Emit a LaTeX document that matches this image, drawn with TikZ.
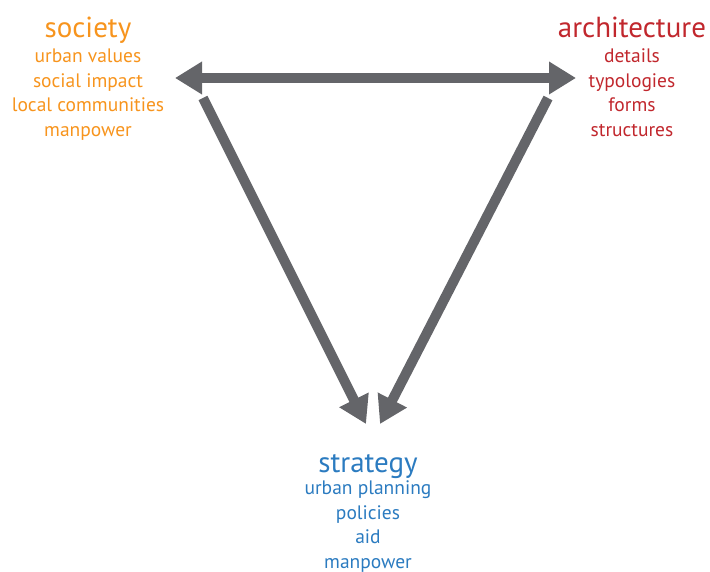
\documentclass[tikz,border=0pt]{standalone}
\usepackage{fontspec}
\setmainfont{PT Sans}
\usetikzlibrary{positioning, arrows.meta}

\definecolor{socorange}{HTML}{F7941D}
\definecolor{archred}{HTML}{C1272D}
\definecolor{stratblue}{HTML}{2B7BC0}
\definecolor{arrowgray}{HTML}{646569}

\tikzset{
  headline/.style={anchor=base, font=\fontsize{29}{32}\selectfont},
  items/.style={anchor=base, align=center, font=\fontsize{19.5}{24.5}\selectfont},
  bigarrow/.style={draw=arrowgray, line width=10pt, -{Triangle[length=27pt, width=31pt]}},
}

\begin{document}
\begin{tikzpicture}[x=1pt, y=-1pt]
			\useasboundingbox (0,0) rectangle (710,572);
			% Define the nodes (list anchors sit on their last line)
			\node (society) [headline, text=socorange] at (88,38) {society};
			\node (societylist) [items, text=socorange] at ([yshift=-98.5pt]society.base) {urban values\\social impact\\local communities\\manpower};
			\node (architecture) [headline, text=archred] at (632,38) {architecture};
			\node (architecturelist) [items, text=archred] at ([yshift=-98.5pt]architecture.base) {details\\typologies\\forms\\structures};
			\node (strategy) [headline, text=stratblue] at (368,472) {strategy};
			\node (strategylist) [items, text=stratblue] at ([yshift=-96pt]strategy.base) {urban planning\\policies\\aid\\manpower};
			% Arrow ends
			\coordinate (leftend) at (175,78);
			\coordinate (rightend) at (576,78);
			\coordinate (leftstart) at (203,98);
			\coordinate (rightstart) at (548,98);
			\coordinate (lefttip) at (366,424);
			\coordinate (righttip) at (380,424);
			% Connect the nodes
			\draw [bigarrow, {Triangle[length=27pt, width=31pt]}-{Triangle[length=27pt, width=31pt]}] (leftend) -- (rightend);
			\draw [bigarrow] (leftstart) -- (lefttip);
			\draw [bigarrow] (rightstart) -- (righttip);
		\end{tikzpicture}
\end{document}
